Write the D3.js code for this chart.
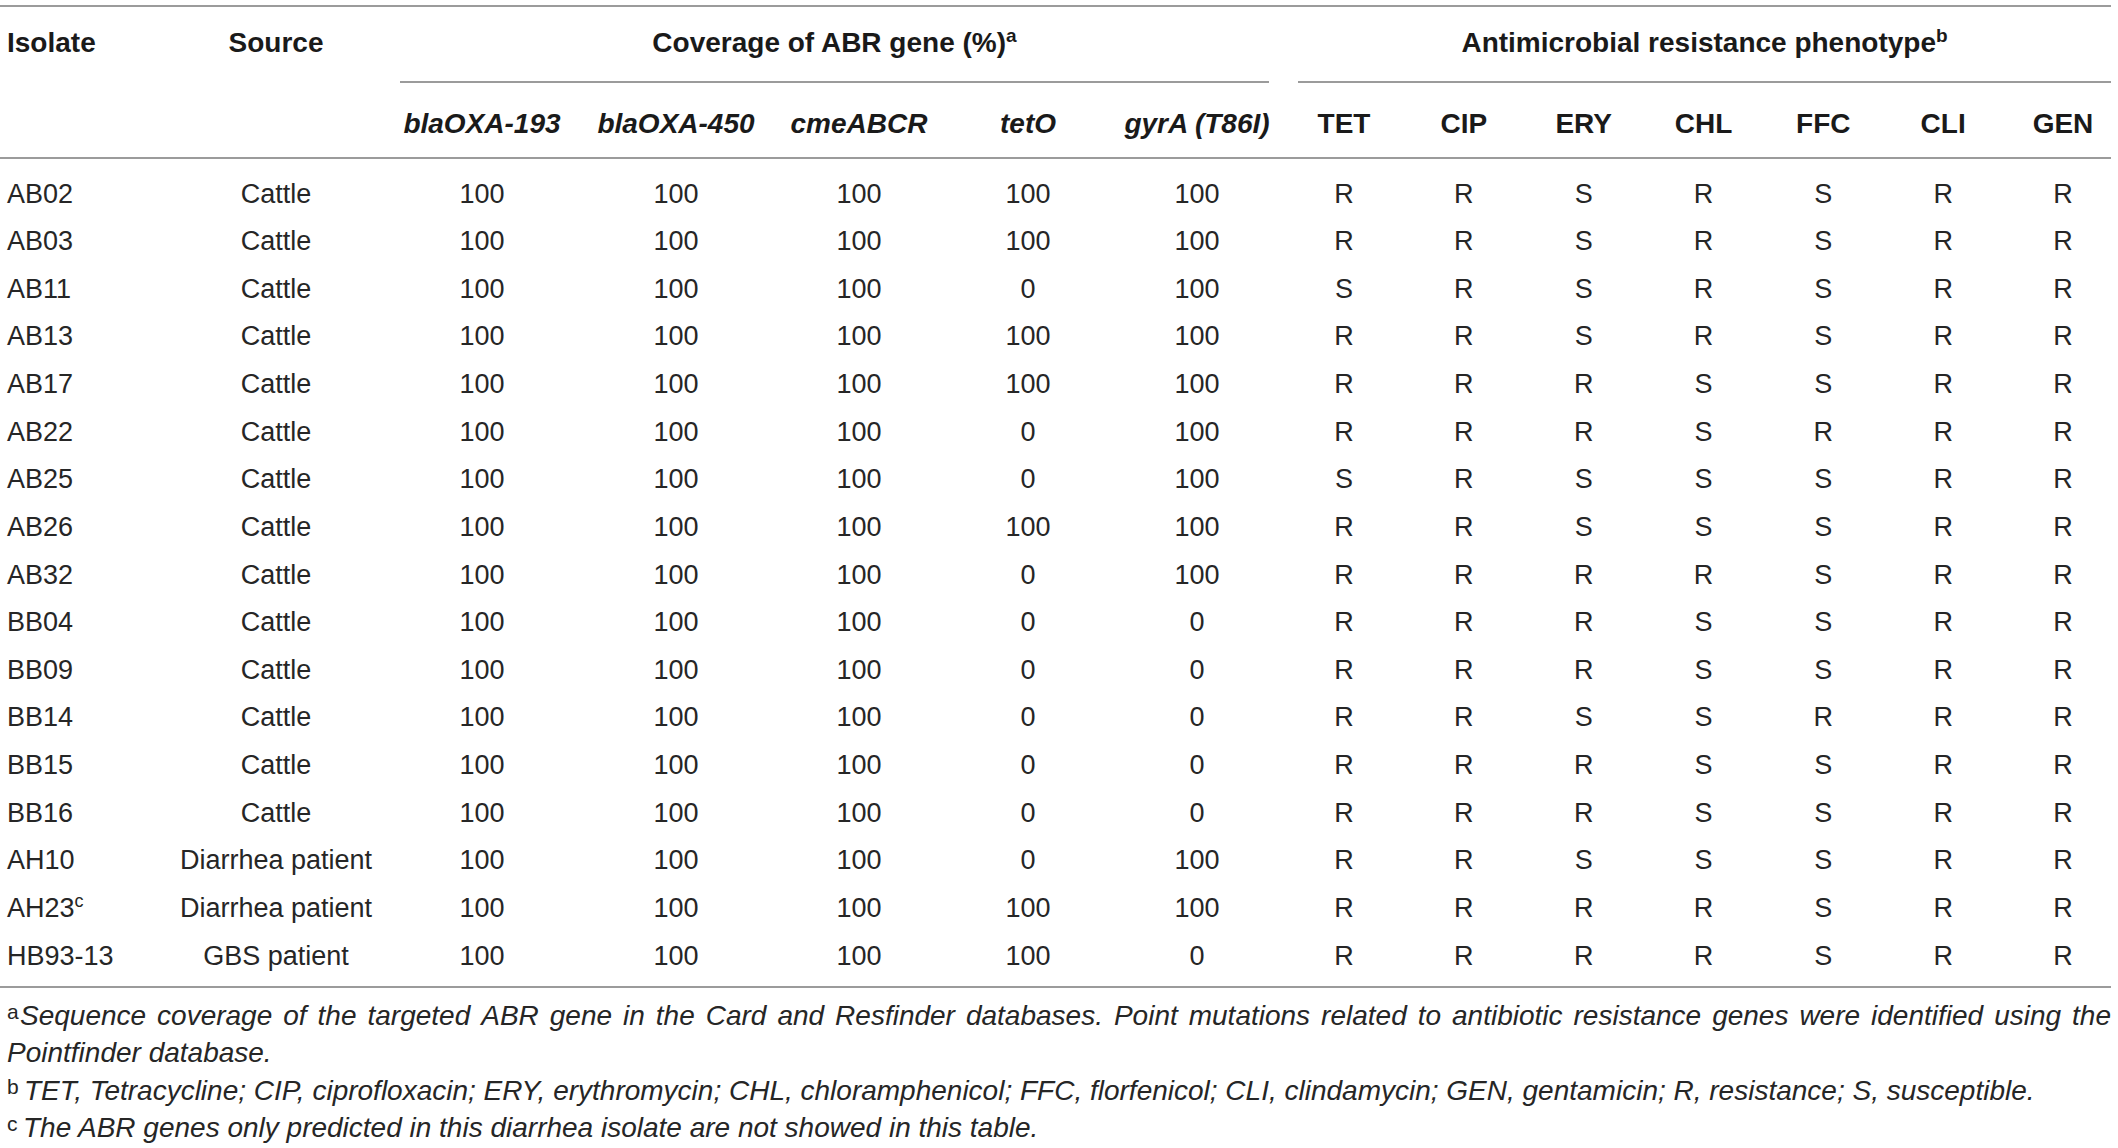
<!DOCTYPE html>
<html>
<head>
<meta charset="utf-8">
<script src="https://cdn.jsdelivr.net/npm/d3@7"></script>
<style>
  html, body { margin: 0; padding: 0; background: #fff; }
  svg { display: block; }
  text { font-family: "Liberation Sans", Arial, Helvetica, sans-serif; fill: #262626; }
  .head { font-weight: bold; font-size: 28px; fill: #1a1a1a; }
  .cell { font-size: 27px; }
  .foot { font-size: 28px; font-style: italic; }
</style>
</head>
<body>
<div id="chart"></div>
<script>
// table content
const isolates = ['AB02', 'AB03', 'AB11', 'AB13', 'AB17', 'AB22', 'AB25', 'AB26', 'AB32',
  'BB04', 'BB09', 'BB14', 'BB15', 'BB16', 'AH10', 'AH23', 'HB93-13'];
const isolateNotes = { 'AH23': 'c' };
const sources = ['Cattle', 'Cattle', 'Cattle', 'Cattle', 'Cattle', 'Cattle', 'Cattle', 'Cattle', 'Cattle',
  'Cattle', 'Cattle', 'Cattle', 'Cattle', 'Cattle', 'Diarrhea patient', 'Diarrhea patient', 'GBS patient'];

const genes = ['blaOXA-193', 'blaOXA-450', 'cmeABCR', 'tetO', 'gyrA (T86I)'];
// coverage (%) per isolate, in gene order
const coverage = [
  [100, 100, 100, 100, 100],
  [100, 100, 100, 100, 100],
  [100, 100, 100, 0, 100],
  [100, 100, 100, 100, 100],
  [100, 100, 100, 100, 100],
  [100, 100, 100, 0, 100],
  [100, 100, 100, 0, 100],
  [100, 100, 100, 100, 100],
  [100, 100, 100, 0, 100],
  [100, 100, 100, 0, 0],
  [100, 100, 100, 0, 0],
  [100, 100, 100, 0, 0],
  [100, 100, 100, 0, 0],
  [100, 100, 100, 0, 0],
  [100, 100, 100, 0, 100],
  [100, 100, 100, 100, 100],
  [100, 100, 100, 100, 0]
];

const drugs = ['TET', 'CIP', 'ERY', 'CHL', 'FFC', 'CLI', 'GEN'];
// phenotype per isolate, one letter per drug
const phenotype = [
  'RRSRSRR', 'RRSRSRR', 'SRSRSRR', 'RRSRSRR', 'RRRSSRR', 'RRRSRRR', 'SRSSSRR',
  'RRSSSRR', 'RRRRSRR', 'RRRSSRR', 'RRRSSRR', 'RRSSRRR', 'RRRSSRR', 'RRRSSRR',
  'RRSSSRR', 'RRRRSRR', 'RRRRSRR'
];

const footA1 = 'Sequence coverage of the targeted ABR gene in the Card and Resfinder databases. Point mutations related to antibiotic resistance genes were identified using the';
const footA2 = 'Pointfinder database.';
const footB = 'TET, Tetracycline; CIP, ciprofloxacin; ERY, erythromycin; CHL, chloramphenicol; FFC, florfenicol; CLI, clindamycin; GEN, gentamicin; R, resistance; S, susceptible.';
const footC = 'The ABR genes only predicted in this diarrhea isolate are not showed in this table.';

// layout
const W = 2118, H = 1148;
const left = 7, right = 2111;
const ruleColor = '#7a7a7a';

const svg = d3.select('#chart').append('svg')
  .attr('width', W)
  .attr('height', H);

// scales
const y = d3.scalePoint().domain(d3.range(isolates.length)).range([193, 955]);
const xGene = d3.scaleOrdinal().domain(genes).range([482, 676, 859, 1028, 1197]);
const xDrug = d3.scalePoint().domain(drugs).range([1344, 2063]);
const xSource = 276;
const capHalf = 9.5; // shift from row centre to baseline

// rules
function rule(x1, x2, yy) {
  svg.append('line')
    .attr('x1', x1).attr('x2', x2)
    .attr('y1', yy).attr('y2', yy)
    .attr('stroke', ruleColor)
    .attr('stroke-width', 1.6);
}
rule(0, right, 6);
rule(400, 1269, 82);
rule(1298, right, 82);
rule(0, right, 158);
rule(0, right, 987);

// header row 1
const h1 = 42 + 10;
svg.append('text').attr('class', 'head').attr('x', left).attr('y', h1).text('Isolate');
svg.append('text').attr('class', 'head').attr('x', xSource).attr('y', h1)
  .attr('text-anchor', 'middle').text('Source');

const covHead = svg.append('text').attr('class', 'head')
  .attr('x', (400 + 1269) / 2).attr('y', h1).attr('text-anchor', 'middle');
covHead.append('tspan').text('Coverage of ABR gene (%)');
covHead.append('tspan').attr('dy', -10).style('font-size', '19px').text('a');

const phenHead = svg.append('text').attr('class', 'head')
  .attr('x', (1298 + right) / 2).attr('y', h1).attr('text-anchor', 'middle');
phenHead.append('tspan').text('Antimicrobial resistance phenotype');
phenHead.append('tspan').attr('dy', -10).style('font-size', '19px').text('b');

// header row 2
const h2 = 123 + 10;
svg.selectAll('.gene-head')
  .data(genes)
  .enter()
  .append('text')
  .attr('class', 'head gene-head')
  .attr('x', d => xGene(d))
  .attr('y', h2)
  .attr('text-anchor', 'middle')
  .style('font-style', 'italic')
  .text(d => d);

svg.selectAll('.drug-head')
  .data(drugs)
  .enter()
  .append('text')
  .attr('class', 'head drug-head')
  .attr('x', d => xDrug(d))
  .attr('y', h2)
  .attr('text-anchor', 'middle')
  .text(d => d);

// body rows
const rows = svg.selectAll('.row')
  .data(isolates.map((iso, i) => ({ i, iso, src: sources[i], cov: coverage[i], phen: phenotype[i].split('') })))
  .enter()
  .append('g')
  .attr('class', 'row')
  .attr('transform', d => `translate(0,${y(d.i) + capHalf})`);

const isoText = rows.append('text')
  .attr('class', 'cell')
  .attr('x', left);
isoText.append('tspan').text(d => d.iso);
isoText.filter(d => isolateNotes[d.iso])
  .append('tspan')
  .attr('dy', -10)
  .style('font-size', '18px')
  .text(d => isolateNotes[d.iso]);

rows.append('text')
  .attr('class', 'cell')
  .attr('x', xSource)
  .attr('text-anchor', 'middle')
  .text(d => d.src);

rows.selectAll('.cov')
  .data(d => d.cov.map((v, j) => ({ gene: genes[j], v })))
  .enter()
  .append('text')
  .attr('class', 'cell cov')
  .attr('x', d => xGene(d.gene))
  .attr('text-anchor', 'middle')
  .text(d => d.v);

rows.selectAll('.phen')
  .data(d => d.phen.map((v, j) => ({ drug: drugs[j], v })))
  .enter()
  .append('text')
  .attr('class', 'cell phen')
  .attr('x', d => xDrug(d.drug))
  .attr('text-anchor', 'middle')
  .text(d => d.v);

// footnotes
function footMark(letter, yy) {
  svg.append('text')
    .attr('x', left).attr('y', yy - 6)
    .style('font-size', '21px')
    .text(letter);
}

// justified first line of footnote a
function justified(str, x1, x2, yy) {
  const words = str.split(' ');
  const g = svg.append('g');
  const nodes = words.map(w => g.append('text').attr('class', 'foot').attr('y', yy).text(w));
  const widths = nodes.map(n => n.node().getComputedTextLength());
  const gap = (x2 - x1 - d3.sum(widths)) / (words.length - 1);
  let cx = x1;
  nodes.forEach((n, k) => {
    n.attr('x', cx);
    cx += widths[k] + gap;
  });
}

footMark('a', 1025);
justified(footA1, 20, right, 1025);
svg.append('text').attr('class', 'foot').attr('x', left).attr('y', 1062).text(footA2);

footMark('b', 1100);
svg.append('text').attr('class', 'foot').attr('x', 24).attr('y', 1100).text(footB);

footMark('c', 1137);
svg.append('text').attr('class', 'foot').attr('x', 23).attr('y', 1137).text(footC);
</script>
</body>
</html>
